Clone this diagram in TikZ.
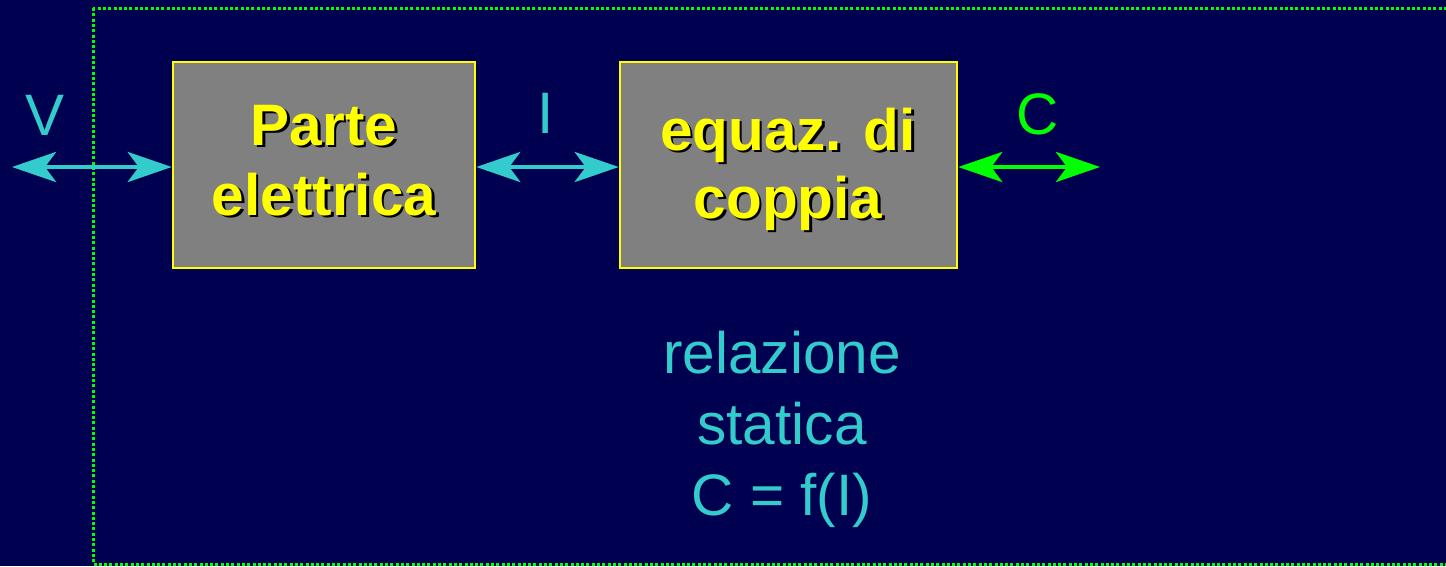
\documentclass[tikz,border=0pt]{standalone}
\usepackage{fontspec}
\setmainfont{Liberation Sans}
\usetikzlibrary{arrows.meta}
\definecolor{bgblue}{RGB}{0,0,80}
\definecolor{cyanish}{RGB}{51,204,204}
\definecolor{lgreen}{RGB}{0,255,0}
\definecolor{boxgray}{RGB}{128,128,128}
\definecolor{yel}{RGB}{255,255,0}
\newcommand{\shtext}[1]{\makebox[0pt][l]{\hspace{2.5pt}\raisebox{-2.5pt}{\color{black}#1}}#1}
\tikzset{
  blockbox/.style={draw=yel, line width=2.5pt, fill=boxgray},
  blocktext/.style={font=\fontsize{58.5}{70}\selectfont\bfseries, text=yel, anchor=base, inner sep=0pt},
  lbl/.style={font=\fontsize{58.5}{70}\selectfont, anchor=base, inner sep=0pt},
  dblarrow/.style={line width=4.5pt, {Stealth[length=44pt,width=30pt,inset=11pt]}-{Stealth[length=44pt,width=30pt,inset=11pt]}}
}
\begin{document}
\begin{tikzpicture}[x=1pt,y=-1pt]
\useasboundingbox (0,0) rectangle (1446,566);
\fill[bgblue] (0,0) rectangle (1446,566);
\begin{scope}
\clip (0,0) rectangle (1446,566);
\draw[lgreen, line width=3pt, dash pattern=on 3pt off 2.3pt] (93,8) rectangle (1470,564);
\end{scope}
% blocks
\node[blockbox, minimum width=302pt, minimum height=206pt, inner sep=0pt] (pe) at (324,165) {};
\node[blockbox, minimum width=337pt, minimum height=206pt, inner sep=0pt] (eq) at (788.5,165) {};
\node[blocktext] (pet1) at (324,145) {\shtext{Parte}};
\node[blocktext] (pet2) at (324,215) {\shtext{elettrica}};
\node[blocktext] (eqt1) at (788,150) {\shtext{equaz. di}};
\node[blocktext] (eqt2) at (788,218) {\shtext{coppia}};
% connectors
\coordinate (vin) at (12,167);
\coordinate (cout) at (1100,167);
\draw[dblarrow, cyanish] (vin) -- (pe.west |- vin);
\draw[dblarrow, cyanish] (pe.east |- vin) -- (eq.west |- vin);
\draw[dblarrow, lgreen] (eq.east |- cout) -- (cout);
% labels
\node[lbl, text=cyanish] (lv) at (45,135) {V};
\node[lbl, text=cyanish] (li) at (546,133) {I};
\node[lbl, text=lgreen] (lc) at (1038,134) {C};
\node[lbl, text=cyanish] (r1) at (782,373) {relazione};
\node[lbl, text=cyanish] (r2) at (782,444) {statica};
\node[lbl, text=cyanish] (r3) at (782,515) {C = f(I)};
\end{tikzpicture}
\end{document}
